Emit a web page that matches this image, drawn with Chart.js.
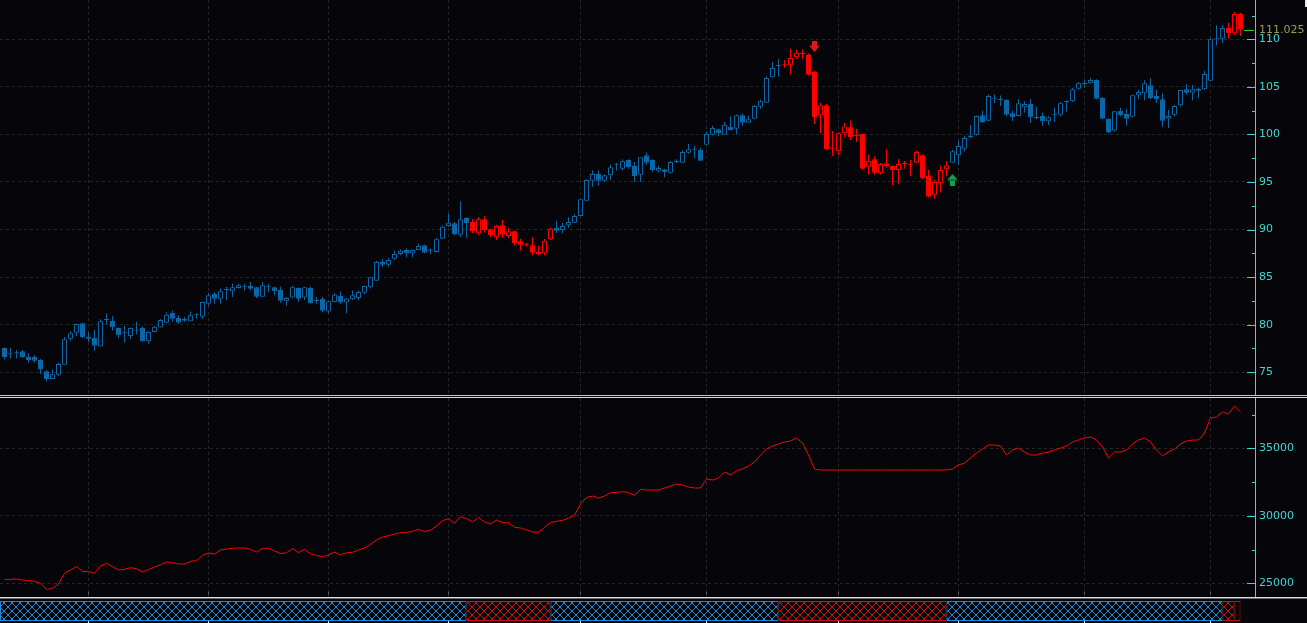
<!DOCTYPE html>
<html>
<head>
<meta charset="utf-8">
<script src="https://cdn.jsdelivr.net/npm/chart.js@4.4.1/dist/chart.umd.min.js"></script>
<style>
  html, body { margin: 0; padding: 0; background: #060509; }
  body { width: 1307px; height: 623px; position: relative; overflow: hidden; }
  .pane { position: absolute; left: 0; width: 1307px; }
  #pricePane { top: 0; height: 395px; }
  #obvPane { top: 398px; height: 199px; }
  #bandPane { top: 599px; height: 24px; }
  .sep { position: absolute; left: 0; width: 1307px; height: 1px; }
  #corner { position: absolute; left: 1305px; top: 0; width: 2px; height: 7px; background: #e8e8e8; }
</style>
</head>
<body>
<div class="pane" id="pricePane"><canvas id="priceChart"></canvas></div>
<div class="sep" style="top:395px;background:#a6dca6"></div>
<div class="sep" style="top:397px;background:#dcdcdc"></div>
<div class="pane" id="obvPane"><canvas id="obvChart"></canvas></div>
<div class="sep" style="top:597px;background:#dcdcdc"></div>
<div class="sep" style="top:598px;background:#6a6a6a"></div>
<div class="pane" id="bandPane"><canvas id="bandChart"></canvas></div>
<div id="corner"></div>
<script>
// ==========================
// DATA
// ==========================
const opens = [
  77.55, 76.9, 77.0, 77.2, 76.6, 76.6, 76.3, 75.1, 74.3, 74.75,
  75.8, 78.53, 79.16, 80.15, 78.74, 78.6, 77.7, 80.5, 80.42, 79.65,
  79.1, 78.8, 79.5, 79.65, 78.26, 79.23, 79.7, 80.2, 81.26, 80.7,
  80.63, 80.35, 80.98, 80.84, 82.2, 83.23, 82.74, 83.65, 83.51, 83.86,
  84.0, 84.07, 83.93, 82.94, 84.0, 83.93, 83.65, 82.52, 82.87, 83.86,
  82.87, 83.86, 82.5, 82.74, 81.4, 82.39, 83.02, 82.32, 82.67, 82.81,
  83.37, 83.93, 84.63, 86.59, 86.31, 86.94, 87.43, 87.85, 87.5, 87.85,
  88.35, 87.78, 87.64, 89.04, 90.37, 90.66, 89.46, 91.22, 90.8, 89.6,
  91.08, 90.03, 89.18, 90.45, 89.32, 89.81, 88.76, 88.41, 88.35, 87.64,
  87.5, 88.98, 90.16, 89.95, 90.45, 90.72, 91.43, 93.04, 95.14, 95.84,
  95.14, 95.7, 96.75, 96.4, 97.31, 96.68, 95.77, 97.8, 97.31, 96.19,
  96.33, 95.98, 97.1, 97.03, 98.08, 98.4, 98.36, 98.92, 99.97, 100.54,
  99.97, 100.81, 100.6, 102.01, 101.23, 101.65, 102.92, 103.34, 106.0, 107.2,
  107.27, 107.27, 108.1, 108.45, 108.38, 106.56, 102.01, 103.06, 98.43, 98.22,
  100.12, 100.75, 99.83, 100.04, 96.61, 97.38, 95.91, 96.96, 96.68, 96.26,
  96.89, 96.82, 97.03, 97.8, 95.63, 93.67, 94.86, 96.33, 97.03, 97.8,
  98.5, 99.69, 99.97, 102.01, 101.44, 103.76, 103.62, 103.62, 102.22, 101.94,
  102.85, 103.2, 101.73, 101.94, 101.38, 102.01, 102.08, 103.41, 103.48, 104.81,
  105.3, 105.37, 105.72, 103.83, 101.66, 100.4, 102.5, 102.15, 101.87, 104.11,
  104.32, 105.16, 104.04, 103.69, 101.66, 102.08, 103.06, 104.74, 104.39, 104.81,
  104.74, 105.65, 110.0, 110.06, 111.19, 110.63, 112.66
];
const highs = [
  77.6, 77.55, 77.35, 77.35, 77.0, 76.8, 76.4, 75.2, 75.3, 76.0,
  78.7, 79.3, 80.1, 80.2, 79.2, 79.43, 80.57, 81.2, 80.9, 79.7,
  79.86, 79.7, 80.3, 79.8, 79.3, 79.9, 80.6, 81.3, 81.5, 81.0,
  80.8, 81.4, 81.2, 82.4, 83.3, 83.4, 83.8, 84.0, 84.3, 84.3,
  84.3, 84.5, 84.0, 84.5, 84.3, 84.0, 84.0, 82.9, 84.1, 83.9,
  84.0, 84.0, 82.9, 82.9, 82.5, 83.3, 83.5, 82.8, 83.6, 83.6,
  84.1, 85.0, 86.7, 86.9, 87.0, 87.8, 87.9, 88.0, 87.9, 88.5,
  88.4, 88.0, 89.1, 90.4, 91.7, 90.8, 92.97, 91.3, 91.1, 91.3,
  91.4, 90.1, 90.5, 91.0, 90.2, 89.9, 89.0, 88.6, 89.2, 88.3,
  89.0, 90.2, 90.9, 90.7, 91.3, 91.6, 93.2, 95.3, 96.2, 96.2,
  95.8, 96.8, 97.0, 97.4, 97.4, 97.1, 97.6, 98.1, 97.4, 96.7,
  96.4, 97.2, 97.4, 98.3, 99.0, 98.8, 98.6, 100.3, 100.9, 100.6,
  101.3, 101.9, 102.1, 102.2, 102.0, 103.1, 103.7, 106.1, 107.6, 107.9,
  107.8, 109.0, 108.9, 108.9, 108.5, 106.7, 103.3, 103.2, 100.33, 100.2,
  101.2, 101.5, 100.6, 100.1, 97.9, 97.7, 97.0, 98.43, 96.7, 97.4,
  97.2, 97.3, 98.3, 97.9, 96.3, 95.2, 96.7, 97.2, 98.4, 99.3,
  99.9, 101.0, 102.0, 102.5, 104.2, 104.2, 104.1, 103.7, 102.5, 103.7,
  103.5, 103.7, 102.9, 102.3, 101.9, 102.8, 103.4, 103.6, 104.9, 105.5,
  105.7, 105.97, 105.8, 103.9, 101.7, 102.5, 102.8, 102.7, 104.2, 104.7,
  105.7, 105.9, 104.7, 104.3, 102.6, 103.1, 104.7, 105.3, 105.2, 104.9,
  106.7, 110.1, 111.47, 111.47, 111.7, 112.87, 112.8
];
const lows = [
  76.35, 76.45, 76.45, 76.5, 76.0, 76.0, 74.8, 74.05, 74.3, 74.6,
  75.8, 78.3, 78.8, 78.6, 78.2, 77.27, 77.7, 80.0, 79.4, 78.6,
  78.1, 78.5, 79.0, 78.2, 78.0, 79.2, 79.7, 80.15, 80.3, 80.1,
  80.3, 80.35, 80.65, 80.6, 82.0, 82.2, 82.2, 82.6, 82.9, 83.8,
  83.6, 83.6, 82.8, 82.9, 83.4, 83.1, 82.3, 82.0, 82.8, 82.4,
  82.6, 82.2, 82.2, 81.3, 81.2, 82.39, 82.2, 81.2, 82.6, 82.6,
  83.2, 83.8, 84.63, 86.1, 86.1, 86.8, 87.3, 87.1, 87.1, 87.85,
  87.5, 87.4, 87.6, 89.04, 90.3, 89.4, 89.2, 89.1, 89.6, 89.4,
  89.7, 89.2, 88.9, 89.1, 89.1, 88.3, 87.78, 88.2, 87.3, 87.3,
  87.3, 88.9, 89.6, 89.6, 90.2, 90.7, 91.4, 93.0, 94.5, 94.6,
  95.0, 95.2, 96.2, 96.2, 96.4, 95.0, 95.0, 96.8, 96.1, 96.0,
  95.5, 95.9, 97.0, 97.0, 98.0, 97.5, 97.2, 98.9, 99.9, 99.8,
  99.97, 100.4, 100.0, 100.9, 101.2, 101.6, 102.7, 103.3, 106.0, 106.1,
  107.0, 106.28, 107.9, 107.9, 106.2, 101.1, 100.1, 98.4, 97.73, 97.8,
  99.7, 99.4, 99.2, 96.3, 95.8, 95.8, 95.8, 96.5, 94.65, 94.8,
  96.4, 95.6, 97.0, 95.3, 93.4, 93.25, 93.9, 95.6, 97.0, 96.8,
  98.2, 99.6, 99.9, 101.2, 101.4, 103.3, 103.0, 101.9, 101.4, 101.9,
  102.3, 101.2, 101.6, 100.9, 101.0, 101.3, 101.9, 102.4, 103.4, 104.7,
  104.9, 105.3, 103.7, 101.6, 100.1, 100.3, 101.9, 100.9, 101.8, 103.7,
  103.6, 103.7, 103.3, 100.8, 100.7, 101.9, 102.9, 104.2, 103.6, 103.8,
  104.7, 105.6, 109.37, 109.6, 110.06, 110.48, 110.34
];
const closes = [
  76.6, 76.9, 77.0, 76.6, 76.3, 76.2, 75.3, 74.3, 74.8, 75.87,
  78.47, 79.1, 80.07, 78.67, 78.53, 77.8, 80.35, 80.5, 79.73, 78.9,
  79.1, 79.65, 79.4, 78.26, 79.23, 79.79, 80.5, 81.05, 80.63, 80.2,
  80.42, 80.98, 80.98, 82.39, 83.09, 82.74, 83.51, 83.65, 83.93, 84.14,
  84.0, 83.79, 82.94, 84.14, 84.0, 83.51, 82.52, 82.8, 83.93, 82.73,
  83.93, 82.25, 82.5, 81.47, 82.46, 83.16, 82.32, 82.74, 83.09, 83.44,
  84.07, 84.98, 86.59, 86.31, 86.8, 87.43, 87.78, 87.5, 87.85, 88.27,
  87.57, 87.78, 88.98, 90.3, 90.72, 89.53, 91.08, 90.66, 89.82, 91.08,
  89.95, 89.4, 90.37, 89.46, 89.81, 88.55, 88.41, 88.41, 87.57, 87.43,
  88.83, 90.09, 89.88, 90.37, 90.8, 91.43, 93.18, 95.21, 95.84, 95.14,
  95.7, 96.54, 96.75, 97.17, 96.54, 95.63, 97.59, 97.03, 96.26, 96.47,
  96.05, 97.1, 97.1, 98.15, 98.43, 98.4, 97.24, 100.04, 100.68, 100.12,
  101.02, 100.47, 102.01, 101.23, 101.59, 102.99, 103.48, 105.93, 106.98, 107.2,
  107.27, 108.03, 108.59, 108.45, 106.28, 101.8, 103.06, 98.43, 98.43, 100.12,
  100.82, 99.69, 99.83, 96.4, 97.24, 95.98, 96.89, 96.68, 96.26, 96.89,
  96.89, 96.82, 98.15, 95.42, 93.46, 94.99, 96.26, 96.75, 98.22, 98.78,
  99.62, 99.9, 101.94, 101.31, 104.04, 103.76, 103.62, 102.08, 101.8, 103.27,
  103.2, 101.8, 101.73, 101.38, 101.8, 102.01, 103.27, 103.41, 104.74, 105.37,
  105.3, 105.72, 103.76, 101.66, 100.19, 102.43, 102.01, 101.66, 104.11, 104.46,
  105.37, 103.83, 103.69, 101.44, 101.94, 102.99, 104.67, 104.39, 104.74, 104.6,
  106.35, 110.0, 110.0, 111.19, 110.63, 112.66, 111.025
];
const obvLine = [
  25270, 25294, 25319, 25245, 25196, 25146, 24998, 24555, 24628, 24949,
  25739, 25986, 26232, 25887, 25862, 25739, 26282, 26479, 26232, 25986,
  26035, 26158, 26084, 25837, 26010, 26208, 26380, 26578, 26529, 26430,
  26430, 26628, 26677, 27072, 27245, 27171, 27467, 27541, 27590, 27615,
  27615, 27516, 27319, 27590, 27590, 27393, 27196, 27269, 27566, 27269,
  27516, 27171, 27072, 26948, 27096, 27319, 27096, 27269, 27294, 27467,
  27615, 27887, 28208, 28430, 28529, 28652, 28751, 28776, 28850, 28998,
  28825, 28924, 29245, 29640, 29788, 29442, 29936, 29788, 29541, 29887,
  29541, 29393, 29689, 29491, 29491, 29146, 29096, 28948, 28800, 28776,
  29146, 29491, 29590, 29664, 29812, 30035, 30874, 31368, 31467, 31318,
  31467, 31714, 31738, 31788, 31714, 31516, 31961, 31911, 31911, 31911,
  32059, 32207, 32356, 32282, 32133, 32059, 32059, 32726, 32652, 32800,
  33245, 33022, 33319, 33467, 33689, 33985, 34504, 34948, 35170, 35318,
  35467, 35541, 35763, 35393, 34504, 33467, 33393, 33393, 33393, 33393,
  33393, 33393, 33393, 33393, 33393, 33393, 33393, 33393, 33393, 33393,
  33393, 33393, 33393, 33393, 33393, 33393, 33393, 33393, 33467, 33763,
  33911, 34282, 34652, 34948, 35244, 35244, 35170, 34504, 34874, 35022,
  34726, 34504, 34504, 34652, 34726, 34874, 35022, 35170, 35467, 35615,
  35763, 35837, 35615, 35096, 34282, 34726, 34726, 34874, 35318, 35615,
  35763, 35467, 34874, 34430, 34726, 34948, 35318, 35541, 35615, 35615,
  36133, 37244, 37318, 37689, 37541, 38133, 37689
];

// month separators (bar index), trend bands, signals, axis ticks
const monthIdx = [14, 34, 54, 74, 96, 117, 139, 159, 180, 201];
const bandEdges = [-0.75, 77, 91, 129, 157, 203, 205, 206];
const bandKinds = ["up", "down", "up", "down", "up", "down", "live"];
const signalIdx = [135, 158];
const signalPrice = [109.24, 95.26];
const signalDir = ["down", "up"];
const priceTicks = [75, 77.5, 80, 82.5, 85, 87.5, 90, 92.5, 95, 97.5, 100, 102.5, 105, 107.5, 110, 112.5];
const obvTicks = [25000, 27500, 30000, 32500, 35000, 37500];

// ==========================
// STYLE
// ==========================
const bg = "#060509";
const axisColor = "#3ed6d6";
const gridColor = "#272727";
const blue = "#0a68a8";
const red = "#ff0000";
const tickFont = { family: "DejaVu Sans", size: 11 };
const xRange = { min: -0.75, max: -0.75 + 1255 / 6 };

Chart.defaults.animation = false;
Chart.defaults.plugins.legend.display = false;
Chart.defaults.plugins.tooltip.enabled = false;

function trendAt(i) {
  for (let k = 0; k < bandKinds.length; k++) {
    if (i <= bandEdges[k + 1]) return bandKinds[k];
  }
  return bandKinds[bandKinds.length - 1];
}

const idx = closes.map((_, i) => i);
const candleColor = idx.map(i => trendAt(i) === "up" ? blue : red);

function xScale() {
  return {
    type: "linear",
    min: xRange.min,
    max: xRange.max,
    offset: false,
    afterBuildTicks: s => { s.ticks = monthIdx.map(v => ({ value: v })); },
    ticks: { display: false },
    grid: { color: gridColor, drawTicks: false, offset: false },
    border: { display: false, dash: [3, 3] },
    afterFit: s => { s.height = 0; s.paddingLeft = 0; s.paddingRight = 0; }
  };
}

function yScale(min, max, tickList, major) {
  return {
    type: "linear",
    position: "right",
    min, max,
    beginAtZero: false,
    afterBuildTicks: s => { s.ticks = tickList.map(v => ({ value: v })); },
    ticks: {
      color: axisColor,
      font: tickFont,
      padding: 4,
      callback: v => (v % major === 0 ? String(v) : "")
    },
    grid: {
      color: c => (c.tick && c.tick.value % major === 0 ? gridColor : "rgba(0,0,0,0)"),
      drawTicks: false
    },
    border: { display: true, color: axisColor, width: 1, dash: [3, 3] },
    afterFit: s => { s.width = 52; s.paddingTop = 0; s.paddingBottom = 0; }
  };
}

// short ticks drawn inward from the price axis line
const innerTicks = {
  id: "innerTicks",
  afterDraw(chart, args, opts) {
    const y = chart.scales.y;
    const ctx = chart.ctx;
    ctx.save();
    ctx.strokeStyle = axisColor;
    ctx.lineWidth = 1;
    y.ticks.forEach(t => {
      const py = Math.round(y.getPixelForValue(t.value)) + 0.5;
      const len = t.value % opts.major === 0 ? 8 : 3;
      ctx.beginPath();
      ctx.moveTo(y.left - len, py);
      ctx.lineTo(y.left, py);
      ctx.stroke();
    });
    ctx.restore();
  }
};

const lastPrice = {
  id: "lastPrice",
  afterDraw(chart) {
    const y = chart.scales.y;
    const ctx = chart.ctx;
    const last = closes[closes.length - 1];
    const py = Math.round(y.getPixelForValue(last)) + 0.5;
    ctx.save();
    ctx.strokeStyle = "#2ecc2e";
    ctx.beginPath();
    ctx.moveTo(y.left - 11, py);
    ctx.lineTo(y.left - 1, py);
    ctx.stroke();
    ctx.fillStyle = "#a09a4e";
    ctx.font = "11px 'DejaVu Sans'";
    ctx.textBaseline = "middle";
    ctx.fillText(last.toFixed(3), y.left + 4, py);
    ctx.restore();
  }
};

const monthMarks = {
  id: "monthMarks",
  afterDraw(chart, args, opts) {
    const x = chart.scales.x;
    const ctx = chart.ctx;
    ctx.save();
    ctx.fillStyle = opts.color;
    monthIdx.forEach(v => {
      const px = Math.floor(x.getPixelForValue(v));
      ctx.fillRect(px, opts.top, 1, opts.len);
    });
    ctx.restore();
  }
};

function arrowCanvas(dir, color) {
  const c = document.createElement("canvas");
  c.width = 11; c.height = 12;
  const g = c.getContext("2d");
  g.fillStyle = color;
  g.beginPath();
  if (dir === "down") {
    g.rect(3, 0, 5, 6);
    g.moveTo(0, 5); g.lineTo(11, 5); g.lineTo(5.5, 11.5); g.closePath();
  } else {
    g.rect(3, 6, 5, 6);
    g.moveTo(0, 6.5); g.lineTo(11, 6.5); g.lineTo(5.5, 0.5); g.closePath();
  }
  g.fill();
  return c;
}

// cross-hatch fill for the trend strip
function hatch(color) {
  const c = document.createElement("canvas");
  c.width = 8; c.height = 8;
  const g = c.getContext("2d");
  g.fillStyle = bg;
  g.fillRect(0, 0, 8, 8);
  g.fillStyle = color;
  for (let k = 0; k < 8; k++) {
    g.fillRect(k, k, 1, 1);
    g.fillRect(7 - k, k, 1, 1);
  }
  g.fillRect(3, 3, 2, 2);
  g.fillRect(0, 0, 1, 1); g.fillRect(7, 0, 1, 1);
  g.fillRect(0, 7, 1, 1); g.fillRect(7, 7, 1, 1);
  return g.createPattern(c, "repeat");
}

// ==========================
// PRICE (CANDLES)
// ==========================
new Chart(document.getElementById("priceChart"), {
  type: "bar",
  data: {
    datasets: [
      {
        type: "scatter",
        data: signalIdx.map((v, k) => ({ x: v, y: signalPrice[k] })),
        pointStyle: signalDir.map(d => arrowCanvas(d, d === "down" ? "#d81c1c" : "#10a04e")),
        order: 0
      },
      {
        label: "body",
        data: idx.map(i => ({ x: i, y: [opens[i], closes[i]] })),
        backgroundColor: idx.map(i => (closes[i] > opens[i] ? bg : candleColor[i])),
        borderColor: candleColor,
        borderWidth: 1,
        borderSkipped: false,
        barThickness: 5,
        minBarLength: 1,
        inflateAmount: 0,
        grouped: false,
        order: 1
      },
      {
        label: "wick",
        data: idx.map(i => ({ x: i, y: [lows[i], highs[i]] })),
        backgroundColor: candleColor,
        borderWidth: 0,
        barThickness: 1,
        inflateAmount: 0,
        grouped: false,
        order: 2
      }
    ]
  },
  options: {
    responsive: true,
    maintainAspectRatio: false,
    layout: { padding: 0, autoPadding: false },
    scales: {
      x: xScale(),
      y: yScale(72.61, 114.13, priceTicks, 5)
    },
    plugins: { innerTicks: { major: 5 } }
  },
  plugins: [innerTicks, lastPrice]
});

// ==========================
// VOLUME LINE
// ==========================
new Chart(document.getElementById("obvChart"), {
  type: "line",
  data: {
    datasets: [{
      data: idx.map(i => ({ x: i, y: obvLine[i] })),
      borderColor: red,
      borderWidth: 1,
      pointRadius: 0,
      tension: 0,
      fill: false
    }]
  },
  options: {
    responsive: true,
    maintainAspectRatio: false,
    layout: { padding: 0, autoPadding: false },
    scales: {
      x: xScale(),
      y: yScale(23986, 38726, obvTicks, 5000)
    },
    plugins: {
      innerTicks: { major: 5000 },
      monthMarks: { color: "#5a5a5a", top: 194, len: 3 }
    }
  },
  plugins: [innerTicks, monthMarks]
});

// ==========================
// TREND BAND STRIP
// ==========================
const blueHatch = hatch("#1c8cda");
const redHatch = hatch("#c80e0e");

new Chart(document.getElementById("bandChart"), {
  type: "bar",
  data: {
    datasets: [{
      data: bandKinds.map((k, j) => ({ x: [bandEdges[j], bandEdges[j + 1]], y: 0 })),
      backgroundColor: bandKinds.map(k => (k === "up" ? blueHatch : k === "down" ? redHatch : bg)),
      borderColor: bandKinds.map(k => (k === "up" ? "#1c8cda" : "#d01010")),
      borderWidth: 1,
      borderSkipped: false,
      barThickness: 20,
      inflateAmount: 0,
      grouped: false
    }]
  },
  options: {
    indexAxis: "y",
    responsive: true,
    maintainAspectRatio: false,
    layout: { padding: { left: 0, right: 52, top: 0, bottom: 0 }, autoPadding: false },
    scales: {
      x: { type: "linear", min: xRange.min, max: xRange.max, offset: false, display: false },
      y: { type: "linear", min: -1, max: 1, offset: false, display: false }
    },
    plugins: { monthMarks: { color: "#e8e8e8", top: 22, len: 2 } }
  },
  plugins: [monthMarks]
});
</script>
</body>
</html>
